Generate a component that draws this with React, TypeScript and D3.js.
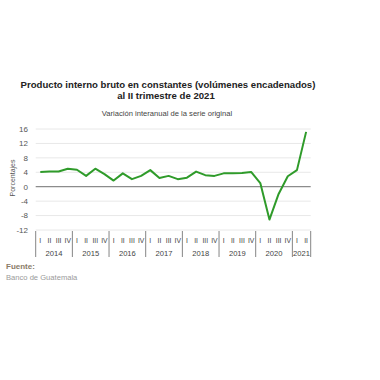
import React from "react";
import * as d3 from "d3";

const years = ["2014", "2015", "2016", "2017", "2018", "2019", "2020", "2021"];
const quarterNames = ["I", "II", "III", "IV"];
const values = [
  4.1, 4.2, 4.2, 5.0,
  4.7, 3.0, 5.0, 3.5,
  1.7, 3.7, 2.1, 3.0,
  4.6, 2.4, 3.0, 2.1,
  2.5, 4.2, 3.2, 3.0,
  3.7, 3.7, 3.8, 4.1,
  1.0, -9.1, -2.0, 2.9,
  4.6, 15.2,
];
const yTicks = [16, 12, 8, 4, 0, -4, -8, -12];

const font = "'Liberation Sans', Arial, sans-serif";

export default function App() {
  const W = 380, H = 380;
  const x0 = 35.7, x1 = 310.7;
  const n = values.length;
  const x = d3.scaleLinear().domain([0, n]).range([x0, x1]);
  const y = d3.scaleLinear().domain([-12, 16]).range([230, 129]);
  const line = d3.line<number>().x((_, i) => x(i + 0.5)).y((d) => y(d));
  const yearStarts: number[] = [];
  for (let i = 0; i <= n; i += 4) yearStarts.push(i);
  return (
    <svg width={W} height={H} style={{ position: "absolute", left: 0, top: 0 }}>
      <rect width={W} height={H} fill="#fff" />
      <text x={168} y={88} textAnchor="middle" fontFamily={font} fontWeight="bold" fontSize={9.6} fill="#222">
        Producto interno bruto en constantes (volúmenes encadenados)
      </text>
      <text x={166} y={99} textAnchor="middle" fontFamily={font} fontWeight="bold" fontSize={9.6} fill="#222">
        al II trimestre de 2021
      </text>
      <text x={167} y={116} textAnchor="middle" fontFamily={font} fontSize={7.6} fill="#444">
        Variación interanual de la serie original
      </text>
      {yTicks.map((t) => (
        <g key={t}>
          <line x1={x0} x2={x1} y1={y(t)} y2={y(t)} stroke={t === 0 ? "#8c8c8c" : "#e8e8e8"} strokeWidth={t === 0 ? 1.2 : 1} />
          <text x={28} y={y(t) + 2.8} textAnchor="end" fontFamily={font} fontSize={8} fill="#555">
            {t}
          </text>
        </g>
      ))}
      <text transform={`translate(15,178) rotate(-90)`} textAnchor="middle" fontFamily={font} fontSize={7} fill="#555">
        Porcentajes
      </text>
      <path d={line(values) || ""} fill="none" stroke="#2f9b2a" strokeWidth={2} strokeLinejoin="round" />
      {values.map((_, i) => (
        <text key={i} x={x(i + 0.5)} y={243} textAnchor="middle" fontFamily={font} fontSize={6.8} fill="#444">
          {quarterNames[i % 4]}
        </text>
      ))}
      {yearStarts.map((s) => (
        <line key={s} x1={x(s)} x2={x(s)} y1={231} y2={257} stroke="#666" strokeWidth={0.8} />
      ))}
      <line x1={x(n)} x2={x(n)} y1={231} y2={257} stroke="#666" strokeWidth={0.8} />
      {years.map((yr, i) => {
        const s = i * 4;
        const e = Math.min(n, s + 4);
        return (
          <text key={yr} x={(x(s) + x(e)) / 2} y={256} textAnchor="middle" fontFamily={font} fontSize={7.6} fill="#444">
            {yr}
          </text>
        );
      })}
      <text x={6} y={269} fontFamily={font} fontSize={8} fontWeight="bold" fill="#8a7c68">
        Fuente:
      </text>
      <text x={6} y={280} fontFamily={font} fontSize={7.6} fill="#9a9a9a">
        Banco de Guatemala
      </text>
    </svg>
  );
}
